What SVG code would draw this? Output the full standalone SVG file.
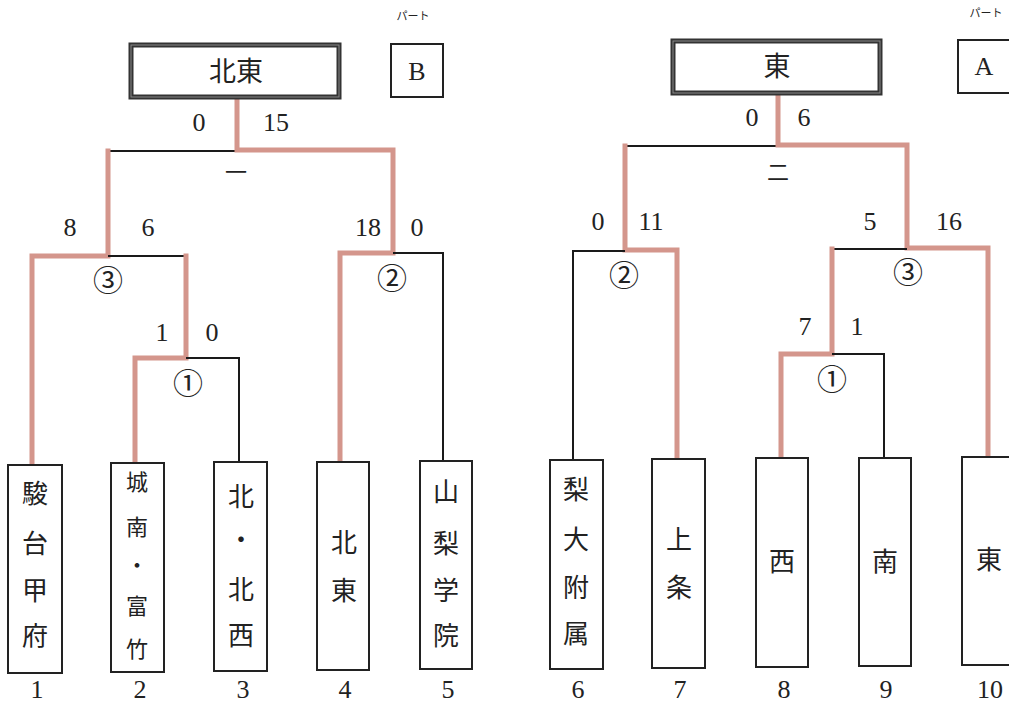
<svg xmlns="http://www.w3.org/2000/svg" width="1009" height="706" viewBox="0 0 1009 706">
<style>
.box{fill:#fff;stroke:#222;stroke-width:2}
.champ-o{fill:#fff;stroke:#333;stroke-width:5}
.champ-i{fill:none;stroke:#8a8a8a;stroke-width:1}
.w{fill:none;stroke:#d4968c;stroke-width:5;stroke-linejoin:miter;stroke-linecap:square}
.l{fill:none;stroke:#1a1a1a;stroke-width:2}
.jp{font-family:"Noto Sans CJK JP","Noto Sans CJK SC",sans-serif;fill:#222;text-anchor:middle}
.num{font-family:"Liberation Serif","Times New Roman",serif;fill:#222;text-anchor:middle;font-size:26px}
.bn{font-size:26px}
.t{font-size:26px}
.ts{font-size:22px}
.circ{font-family:"Noto Sans CJK JP",sans-serif;font-size:30px;fill:#222;text-anchor:middle}
.part{font-family:"Noto Sans CJK JP",sans-serif;font-size:11px;fill:#222;text-anchor:middle}
</style>
<rect width="1009" height="706" fill="#fff"/>

<g id="connectors">
<path class="l" d="M108,151 H237"/>
<path class="w" d="M237,98 V150 H393 V253 H340 V462"/>
<path class="l" d="M393,253 H443 V461"/>
<path class="w" d="M108,151 V256 H32 V465"/>
<path class="l" d="M108,256 H186"/>
<path class="w" d="M186,256 V358 H135 V463"/>
<path class="l" d="M186,358 H239 V462"/>
<path class="l" d="M625,146 H778"/>
<path class="w" d="M778,94 V145 H907 V248 H988 V457"/>
<path class="w" d="M625,146 V250 H677 V459"/>
<path class="l" d="M625,251 H573 V460"/>
<path class="l" d="M907,249 H832"/>
<path class="w" d="M832,249 V354 H781 V458"/>
<path class="l" d="M832,354 H884 V458"/>
</g>

<g id="champion-left">
<rect class="champ-o" x="131" y="45" width="208" height="52"/>
<rect class="champ-i" x="131" y="45" width="208" height="52"/>
<text class="jp" x="236" y="81" font-size="27">北東</text>
</g>
<g id="part-b">
<text class="part" x="413" y="20">パート</text>
<rect class="box" x="391" y="44" width="52" height="53"/>
<text class="num" x="417" y="80" font-size="28">B</text>
</g>
<g id="champion-right">
<rect class="champ-o" x="673" y="41" width="207" height="52"/>
<rect class="champ-i" x="673" y="41" width="207" height="52"/>
<text class="jp" x="777" y="76" font-size="27">東</text>
</g>
<g id="part-a">
<text class="part" x="986" y="17">パート</text>
<rect class="box" x="958" y="40" width="60" height="53"/>
<text class="num" x="984" y="75" font-size="28">A</text>
</g>

<g id="labels">
<text class="num" x="199" y="131">0</text>
<text class="num" x="276" y="131">15</text>
<text class="jp" x="236" y="180" font-size="22">一</text>
<text class="num" x="70" y="236">8</text>
<text class="num" x="148" y="236">6</text>
<text class="num" x="368" y="236">18</text>
<text class="num" x="417" y="236">0</text>
<text class="circ" x="108" y="291">③</text>
<text class="circ" x="392" y="289">②</text>
<text class="num" x="162" y="341">1</text>
<text class="num" x="212" y="341">0</text>
<text class="circ" x="188" y="394">①</text>

<text class="num" x="752" y="126">0</text>
<text class="num" x="804" y="126">6</text>
<text class="jp" x="778" y="180" font-size="22">二</text>
<text class="num" x="598" y="230">0</text>
<text class="num" x="651" y="230">11</text>
<text class="num" x="870" y="230">5</text>
<text class="num" x="949" y="230">16</text>
<text class="circ" x="624" y="286">②</text>
<text class="circ" x="908" y="283">③</text>
<text class="num" x="805" y="335">7</text>
<text class="num" x="857" y="335">1</text>
<text class="circ" x="832" y="390">①</text>
</g>

<g id="team-1">
<rect class="box" x="8" y="465" width="54" height="208"/>
<text class="jp t" x="35"><tspan x="35" y="503">駿</tspan><tspan x="35" y="553">台</tspan><tspan x="35" y="600">甲</tspan><tspan x="35" y="645">府</tspan></text>
<text class="num bn" x="37" y="698">1</text>
</g>
<g id="team-2">
<rect class="box" x="111" y="463" width="53" height="209"/>
<text class="jp ts" x="137"><tspan x="137" y="490">城</tspan><tspan x="137" y="535">南</tspan><tspan x="137" y="573">・</tspan><tspan x="137" y="614">富</tspan><tspan x="137" y="657">竹</tspan></text>
<text class="num bn" x="140" y="698">2</text>
</g>
<g id="team-3">
<rect class="box" x="214" y="462" width="53" height="209"/>
<text class="jp t" x="241"><tspan x="241" y="506">北</tspan><tspan x="241" y="549">・</tspan><tspan x="241" y="599">北</tspan><tspan x="241" y="645">西</tspan></text>
<text class="num bn" x="243" y="698">3</text>
</g>
<g id="team-4">
<rect class="box" x="317" y="462" width="52" height="208"/>
<text class="jp t" x="344"><tspan x="344" y="552">北</tspan><tspan x="344" y="600">東</tspan></text>
<text class="num bn" x="345" y="698">4</text>
</g>
<g id="team-5">
<rect class="box" x="420" y="461" width="52" height="208"/>
<text class="jp t" x="446"><tspan x="446" y="501">山</tspan><tspan x="446" y="553">梨</tspan><tspan x="446" y="600">学</tspan><tspan x="446" y="645">院</tspan></text>
<text class="num bn" x="448" y="698">5</text>
</g>
<g id="team-6">
<rect class="box" x="550" y="460" width="53" height="209"/>
<text class="jp t" x="576"><tspan x="576" y="499">梨</tspan><tspan x="576" y="549">大</tspan><tspan x="576" y="597">附</tspan><tspan x="576" y="643">属</tspan></text>
<text class="num bn" x="578" y="698">6</text>
</g>
<g id="team-7">
<rect class="box" x="652" y="459" width="53" height="209"/>
<text class="jp t" x="679"><tspan x="679" y="549">上</tspan><tspan x="679" y="597">条</tspan></text>
<text class="num bn" x="680" y="698">7</text>
</g>
<g id="team-8">
<rect class="box" x="756" y="458" width="52" height="209"/>
<text class="jp t" x="782"><tspan x="782" y="571">西</tspan></text>
<text class="num bn" x="784" y="698">8</text>
</g>
<g id="team-9">
<rect class="box" x="859" y="458" width="52" height="208"/>
<text class="jp t" x="885"><tspan x="885" y="571">南</tspan></text>
<text class="num bn" x="886" y="698">9</text>
</g>
<g id="team-10">
<rect class="box" x="962" y="457" width="60" height="208"/>
<text class="jp t" x="989"><tspan x="989" y="569">東</tspan></text>
<text class="num bn" x="990" y="698">10</text>
</g>
</svg>
